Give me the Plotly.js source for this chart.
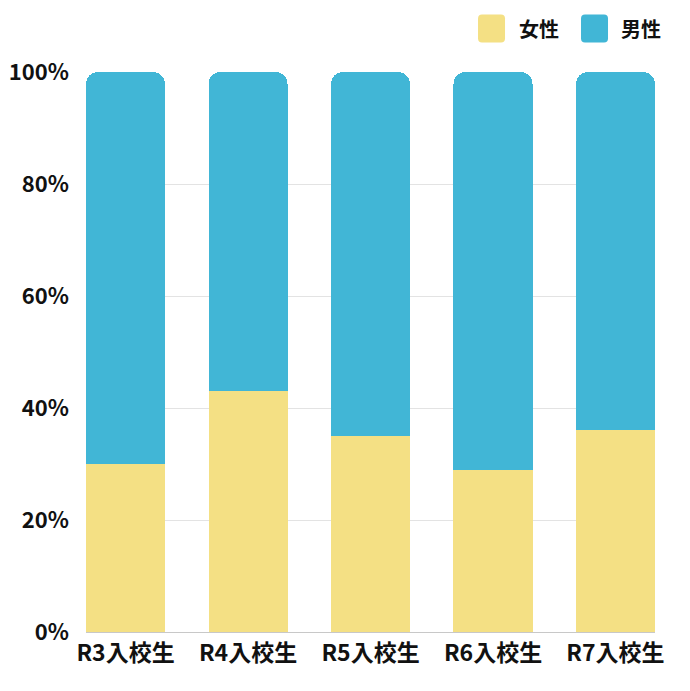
<!DOCTYPE html>
<html>
<head>
<meta charset="utf-8">
<script src="https://cdn.plot.ly/plotly-3.0.1.min.js"></script>
<style>
  html, body { margin: 0; padding: 0; background: #fff; }
  #chart { width: 690px; height: 691px; }
</style>
</head>
<body>
<div id="chart"></div>
<script>
// 入校生の男女比（%）
const years = ['R3入校生', 'R4入校生', 'R5入校生', 'R6入校生', 'R7入校生'];
const female = [30, 43, 35, 29, 36];
const male = female.map(v => 100 - v);
const yTicks = [0, 20, 40, 60, 80, 100];

const YELLOW = '#F4E084';
const BLUE = '#41B6D6';
const FONT = '"Noto Sans CJK JP", "Noto Sans", sans-serif';

const traces = [
  {type: 'bar', name: '女性', x: years, y: female, marker: {color: YELLOW}, hoverinfo: 'x+y'},
  {type: 'bar', name: '男性', x: years, y: male, marker: {color: BLUE}, hoverinfo: 'x+y'}
];

// legend drawn by hand: rounded squares + labels
const sq = 'M-9.5,-14 H9.5 Q13.5,-14 13.5,-10 V10 Q13.5,14 9.5,14 H-9.5 Q-13.5,14 -13.5,10 V-10 Q-13.5,-14 -9.5,-14 Z';
const legendItems = [
  {name: '女性', color: YELLOW, x: 0.7127, tx: 0.7575},
  {name: '男性', color: BLUE, x: 0.8937, tx: 0.9367}
];
const shapes = legendItems.map(l => ({
  type: 'path', xref: 'paper', yref: 'paper', xsizemode: 'pixel', ysizemode: 'pixel',
  xanchor: l.x, yanchor: 1.0777, path: sq, fillcolor: l.color, line: {width: 0}
}));
const annotations = legendItems.map(l => ({
  xref: 'paper', yref: 'paper', x: l.tx, y: 1.0777, xanchor: 'left', yanchor: 'middle',
  text: l.name, showarrow: false, font: {family: FONT, size: 20, color: '#111', weight: 'bold'}
}));

const w = 0.645;
const layout = {
  width: 690, height: 691,
  margin: {l: 86, r: 35, t: 72, b: 59},
  paper_bgcolor: '#fff', plot_bgcolor: '#fff',
  barmode: 'stack', bargap: 1 - w, barcornerradius: 12,
  showlegend: false,
  font: {family: FONT, color: '#111'},
  xaxis: {
    range: [-w / 2, years.length - 1 + w / 2], showgrid: false, zeroline: false,
    showline: false, ticks: '', ticklabelstandoff: 5,
    tickfont: {family: FONT, size: 23, weight: 'bold', color: '#111'}, fixedrange: true
  },
  yaxis: {
    range: [0, 100], tickvals: yTicks, ticktext: yTicks.map(v => v + '%'),
    showgrid: true, gridcolor: '#e3e3e3', gridwidth: 1,
    zeroline: true, zerolinecolor: '#c8c8c8', zerolinewidth: 1,
    ticks: '', ticklabelstandoff: 16,
    tickfont: {family: FONT, size: 22, weight: 'bold', color: '#111'}, fixedrange: true
  },
  shapes, annotations
};

Plotly.newPlot('chart', traces, layout, {displayModeBar: false, staticPlot: true});
</script>
</body>
</html>
